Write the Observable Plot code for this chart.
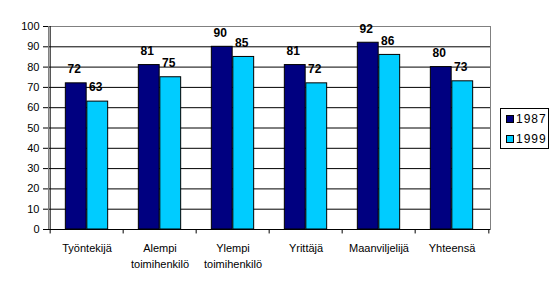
<!DOCTYPE html>
<html>
<head>
<meta charset="utf-8">
<script src="https://cdn.jsdelivr.net/npm/d3@7"></script>
<script src="https://cdn.jsdelivr.net/npm/@observablehq/plot@0.6"></script>
<style>
  html, body { margin: 0; padding: 0; background: #fff; }
  #wrap { position: relative; width: 558px; height: 290px; font-family: "Liberation Sans", Arial, sans-serif; }
  #legend { position: absolute; left: 500px; top: 108px; width: 49px; height: 41px; border: 1px solid #000; box-sizing: border-box; font-size: 12px; letter-spacing: 1px; }
  #legend .item { position: absolute; left: 5px; height: 14px; line-height: 14px; display: flex; align-items: center; }
  #legend .sw { width: 6px; height: 6px; border: 1px solid #000; margin-right: 2px; }
</style>
</head>
<body>
<div id="wrap"><div id="chart"></div><div id="legend"></div></div>
<script>
const categories = ["Työntekijä", "Alempi\ntoimihenkilö", "Ylempi\ntoimihenkilö", "Yrittäjä", "Maanviljelijä", "Yhteensä"];
const series = ["1987", "1999"];
const values1987 = [72, 81, 90, 81, 92, 80];
const values1999 = [63, 75, 85, 72, 86, 73];
const yTicks = [0, 10, 20, 30, 40, 50, 60, 70, 80, 90, 100];
const colors = ["#000080", "#00CCFF"];

const W = 558, H = 290, mL = 48, mR = 68, mT = 26, mB = 61;
const bw = (W - mL - mR) / categories.length;
const barW = 21.5;

const d87 = categories.map((c, i) => ({cat: c, value: values1987[i]}));
const d99 = categories.map((c, i) => ({cat: c, value: values1999[i]}));

const chart = Plot.plot({
  width: W, height: H,
  marginLeft: mL, marginRight: mR, marginTop: mT, marginBottom: mB,
  style: {fontFamily: "'Liberation Sans', Arial, sans-serif", fontSize: "11px", color: "#000", background: "#fff"},
  x: {domain: categories, padding: 0, label: null},
  y: {domain: [0, 100], label: null},
  marks: [
    Plot.ruleY(yTicks.filter(t => t > 0 && t < 100), {stroke: "#000", strokeWidth: 1}),
    Plot.frame({stroke: "#808080"}),
    Plot.barY(d87, {x: "cat", y: "value", fill: colors[0], stroke: "#000", strokeWidth: 1,
      insetLeft: bw / 2 - barW, insetRight: bw / 2}),
    Plot.barY(d99, {x: "cat", y: "value", fill: colors[1], stroke: "#000", strokeWidth: 1,
      insetLeft: bw / 2, insetRight: bw / 2 - barW}),
    Plot.text(d87, {x: "cat", y: "value", text: d => String(d.value), dx: -barW / 2 - 2, dy: -14,
      fontWeight: "bold", fontSize: 12, fill: "#000"}),
    Plot.text(d99, {x: "cat", y: "value", text: d => String(d.value), dx: barW / 2 - 2, dy: -14,
      fontWeight: "bold", fontSize: 12, fill: "#000"}),
    Plot.ruleY([0], {stroke: "#000"}),
    Plot.ruleX([categories[0]], {y1: 0, y2: 100, dx: -bw / 2, stroke: "#000"}),
    Plot.ruleX(categories, {y1: 0, y2: -2.2, dx: -bw / 2, stroke: "#000"}),
    Plot.ruleX([categories[categories.length - 1]], {y1: 0, y2: -2.2, dx: bw / 2, stroke: "#000"}),
    Plot.axisY({ticks: yTicks, tickSize: 5, tickPadding: 4, label: null, stroke: "#000", fontSize: 11, style: "letter-spacing:0.6px"}),
    Plot.axisX({tickSize: 0, tickPadding: 12, label: null, fontSize: 11, lineHeight: 1.4, style: "letter-spacing:0.5px"})
  ]
});
document.getElementById("chart").appendChild(chart);

const legend = document.getElementById("legend");
series.forEach((s, i) => {
  const item = document.createElement("div");
  item.className = "item";
  item.style.top = (3 + i * 20) + "px";
  const sw = document.createElement("div");
  sw.className = "sw";
  sw.style.background = colors[i];
  item.appendChild(sw);
  item.appendChild(document.createTextNode(s));
  legend.appendChild(item);
});
</script>
</body>
</html>
